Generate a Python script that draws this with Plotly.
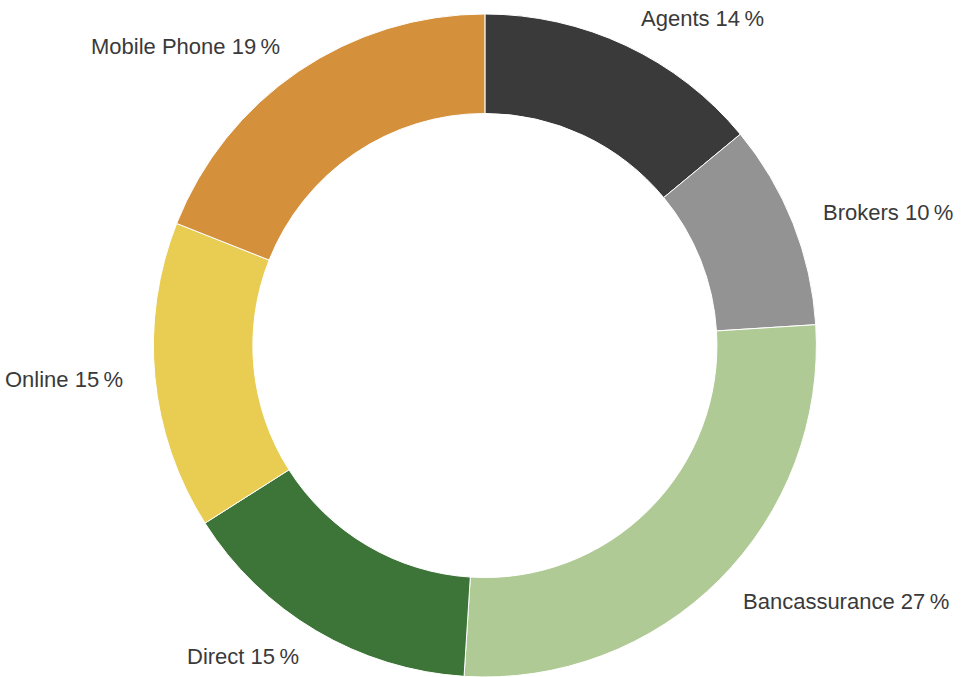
import numpy as np
import plotly.graph_objects as go

channels = ["Agents", "Brokers", "Bancassurance", "Direct", "Online", "Mobile Phone"]
shares = [14, 10, 27, 15, 15, 19]
colors = ["#3a3a3a", "#939393", "#afca94", "#3d7538", "#e8cd52", "#d4903b"]

W, H = 964, 677
M_T, M_B, M_L, M_R = 14, 0, 0, 0
DOM_X = [0.006, 1.0]

fig = go.Figure(go.Pie(
    labels=channels,
    values=shares,
    hole=0.70,
    sort=False,
    direction="clockwise",
    rotation=0,
    marker=dict(colors=colors, line=dict(color="white", width=1)),
    textinfo="none",
    domain=dict(x=DOM_X, y=[0, 1]),
    showlegend=False,
    hoverinfo="label+percent",
))

# label positions derived from the slice mid-angles
plot_w = W - M_L - M_R
plot_h = H - M_T - M_B
cx = M_L + plot_w * (DOM_X[0] + DOM_X[1]) / 2
cy = M_T + plot_h / 2
r_ring = min(plot_w * (DOM_X[1] - DOM_X[0]), plot_h) / 2
r_lab = r_ring + 30

vals = np.array(shares, dtype=float)
cum = np.cumsum(vals) - vals / 2
theta = cum / vals.sum() * 2 * np.pi

for name, v, t in zip(channels, shares, theta):
    sx = cx + r_lab * np.sin(t)
    sy = cy - r_lab * np.cos(t)
    fig.add_annotation(
        x=(sx - M_L) / plot_w,
        y=(H - M_B - sy) / plot_h,
        xref="paper", yref="paper",
        text=f"{name} {v}\u2009%",
        showarrow=False,
        xanchor="left" if np.sin(t) > 0 else "right",
        yanchor="middle",
        font=dict(family="Liberation Sans, Arial, sans-serif", size=22, color="#3a3a3a"),
    )

fig.update_layout(
    width=W,
    height=H,
    margin=dict(l=M_L, r=M_R, t=M_T, b=M_B),
    paper_bgcolor="white",
    plot_bgcolor="white",
)

fig.write_html("out.html", config={"displayModeBar": False},
               post_script="document.body.style.margin='0';")
